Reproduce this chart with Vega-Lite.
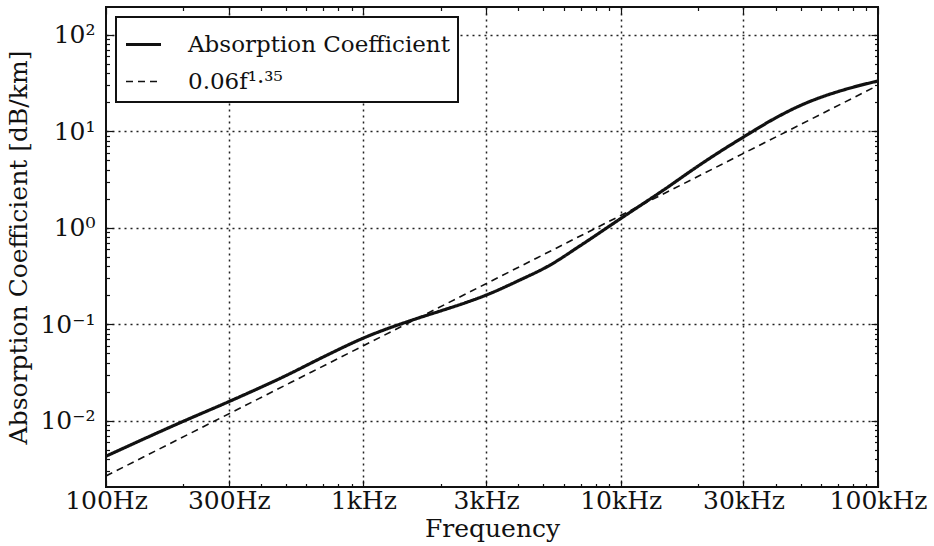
{
  "$schema": "https://vega.github.io/schema/vega-lite/v6.json",
  "width": 772,
  "height": 480,
  "autosize": {"type": "none"},
  "padding": {"left": 106, "top": 7, "right": 56, "bottom": 59},
  "background": "white",
  "config": {
    "view": {"stroke": "#111", "strokeWidth": 2},
    "font": "DejaVu Serif",
    "legend": {"strokeWidth": 2}
  },
  "data": {
    "values": [
      {"f": 100, "a": 0.0043, "series": "Absorption Coefficient"},
      {"f": 200, "a": 0.0099, "series": "Absorption Coefficient"},
      {"f": 300, "a": 0.0158, "series": "Absorption Coefficient"},
      {"f": 500, "a": 0.0294, "series": "Absorption Coefficient"},
      {"f": 700, "a": 0.046, "series": "Absorption Coefficient"},
      {"f": 1000, "a": 0.072, "series": "Absorption Coefficient"},
      {"f": 1600, "a": 0.114, "series": "Absorption Coefficient"},
      {"f": 2000, "a": 0.138, "series": "Absorption Coefficient"},
      {"f": 2500, "a": 0.168, "series": "Absorption Coefficient"},
      {"f": 3000, "a": 0.201, "series": "Absorption Coefficient"},
      {"f": 4000, "a": 0.283, "series": "Absorption Coefficient"},
      {"f": 5300, "a": 0.41, "series": "Absorption Coefficient"},
      {"f": 7000, "a": 0.66, "series": "Absorption Coefficient"},
      {"f": 10000, "a": 1.25, "series": "Absorption Coefficient"},
      {"f": 15000, "a": 2.57, "series": "Absorption Coefficient"},
      {"f": 20000, "a": 4.38, "series": "Absorption Coefficient"},
      {"f": 25000, "a": 6.47, "series": "Absorption Coefficient"},
      {"f": 30000, "a": 8.74, "series": "Absorption Coefficient"},
      {"f": 40000, "a": 13.8, "series": "Absorption Coefficient"},
      {"f": 50000, "a": 18.6, "series": "Absorption Coefficient"},
      {"f": 60000, "a": 22.6, "series": "Absorption Coefficient"},
      {"f": 70000, "a": 25.9, "series": "Absorption Coefficient"},
      {"f": 85000, "a": 30.0, "series": "Absorption Coefficient"},
      {"f": 100000, "a": 33.3, "series": "Absorption Coefficient"},
      {"f": 100, "a": 0.00268, "series": "0.06f¹·³⁵"},
      {"f": 1000, "a": 0.06, "series": "0.06f¹·³⁵"},
      {"f": 10000, "a": 1.343, "series": "0.06f¹·³⁵"},
      {"f": 100000, "a": 30.07, "series": "0.06f¹·³⁵"}
    ]
  },
  "layer": [
    {
      "mark": {"type": "line", "color": "#111", "clip": true, "interpolate": "monotone"},
      "encoding": {
        "x": {
          "field": "f", "type": "quantitative",
          "scale": {"type": "log", "domain": [100, 100000], "nice": false},
          "axis": {
            "orient": "bottom",
            "values": [100,200,300,400,500,600,700,800,900,1000,2000,3000,4000,5000,6000,7000,8000,9000,10000,20000,30000,40000,50000,60000,70000,80000,90000,100000],
            "labelExpr": "datum.value == 100 ? '100Hz' : datum.value == 300 ? '300Hz' : datum.value == 1000 ? '1kHz' : datum.value == 3000 ? '3kHz' : datum.value == 10000 ? '10kHz' : datum.value == 30000 ? '30kHz' : datum.value == 100000 ? '100kHz' : ''",
            "labelOverlap": false, "labelFlush": false, "labelBound": false,
            "labelFontSize": 25, "labelColor": "#111", "labelPadding": 8,
            "title": "Frequency", "titleFontSize": 25, "titleFontWeight": "normal", "titleColor": "#111", "titlePadding": 0,
            "domain": false,
            "grid": true, "gridDash": [2, 4], "gridColor": "#222", "gridWidth": 1.5,
            "gridOpacity": {"condition": {"test": "indexof([300,1000,3000,10000,30000], datum.value) >= 0", "value": 1}, "value": 0},
            "tickColor": "#111", "tickWidth": 1.2,
            "tickSize": {"condition": {"test": "indexof([100,300,1000,3000,10000,30000,100000], datum.value) >= 0", "value": -7}, "value": -3.5}
          }
        },
        "y": {
          "field": "a", "type": "quantitative",
          "scale": {"type": "log", "domain": [0.00206, 195], "nice": false},
          "axis": {
            "orient": "left",
            "values": [0.003,0.004,0.005,0.006,0.007,0.008,0.009,0.01,0.02,0.03,0.04,0.05,0.06,0.07,0.08,0.09,0.1,0.2,0.3,0.4,0.5,0.6,0.7,0.8,0.9,1,2,3,4,5,6,7,8,9,10,20,30,40,50,60,70,80,90,100],
            "labelExpr": "datum.value == 100 ? '10²' : datum.value == 10 ? '10¹' : datum.value == 1 ? '10⁰' : datum.value == 0.1 ? '10⁻¹' : datum.value == 0.01 ? '10⁻²' : ''",
            "labelOverlap": false, "labelFlush": false, "labelBound": false,
            "labelFontSize": 25, "labelColor": "#111", "labelPadding": 18,
            "title": "Absorption Coefficient [dB/km]", "titleFontSize": 25, "titleFontWeight": "normal", "titleColor": "#111", "titlePadding": 8,
            "domain": false,
            "grid": true, "gridDash": [2, 4], "gridColor": "#222", "gridWidth": 1.5,
            "gridOpacity": {"condition": {"test": "indexof([0.01,0.1,1,10,100], datum.value) >= 0", "value": 1}, "value": 0},
            "tickColor": "#111", "tickWidth": 1.2,
            "tickSize": {"condition": {"test": "indexof([0.01,0.1,1,10,100], datum.value) >= 0", "value": -7}, "value": -3.5}
          }
        },
        "strokeDash": {
          "field": "series", "type": "nominal",
          "scale": {"domain": ["Absorption Coefficient", "0.06f¹·³⁵"], "range": [[1, 0], [7, 5]]},
          "legend": {
            "title": null, "orient": "top-left", "offset": 10,
            "labelFontSize": 23, "labelColor": "#111", "labelFont": "DejaVu Serif", "labelLimit": 500,
            "symbolType": "stroke", "symbolSize": 1225, "symbolStrokeColor": "#111",
            "strokeColor": "#111", "fillColor": "white", "padding": 8, "rowPadding": 6, "labelOffset": 25, "cornerRadius": 0
          }
        },
        "strokeWidth": {
          "field": "series", "type": "nominal",
          "scale": {"domain": ["Absorption Coefficient", "0.06f¹·³⁵"], "range": [3.2, 1.6]},
          "legend": {
            "title": null, "orient": "top-left", "offset": 10,
            "labelFontSize": 23, "labelColor": "#111", "labelFont": "DejaVu Serif", "labelLimit": 500,
            "symbolType": "stroke", "symbolSize": 1225, "symbolStrokeColor": "#111",
            "strokeColor": "#111", "fillColor": "white", "padding": 8, "rowPadding": 6, "labelOffset": 25, "cornerRadius": 0
          }
        }
      }
    },
    {
      "mark": {"type": "line", "opacity": 0},
      "encoding": {
        "x": {
          "field": "f", "type": "quantitative",
          "scale": {"type": "log", "domain": [100, 100000], "nice": false},
          "axis": {
            "orient": "top",
            "values": [100,200,300,400,500,600,700,800,900,1000,2000,3000,4000,5000,6000,7000,8000,9000,10000,20000,30000,40000,50000,60000,70000,80000,90000,100000],
            "labels": false, "title": null, "domain": false, "grid": false,
            "tickColor": "#111", "tickWidth": 1.2,
            "tickSize": {"condition": {"test": "indexof([100,300,1000,3000,10000,30000,100000], datum.value) >= 0", "value": -7}, "value": -3.5}
          }
        },
        "y": {
          "field": "a", "type": "quantitative",
          "scale": {"type": "log", "domain": [0.00206, 195], "nice": false},
          "axis": {
            "orient": "right",
            "values": [0.003,0.004,0.005,0.006,0.007,0.008,0.009,0.01,0.02,0.03,0.04,0.05,0.06,0.07,0.08,0.09,0.1,0.2,0.3,0.4,0.5,0.6,0.7,0.8,0.9,1,2,3,4,5,6,7,8,9,10,20,30,40,50,60,70,80,90,100],
            "labels": false, "title": null, "domain": false, "grid": false,
            "tickColor": "#111", "tickWidth": 1.2,
            "tickSize": {"condition": {"test": "indexof([0.01,0.1,1,10,100], datum.value) >= 0", "value": -7}, "value": -3.5}
          }
        },
        "detail": {"field": "series", "type": "nominal"}
      }
    }
  ],
  "resolve": {"axis": {"x": "independent", "y": "independent"}}
}
